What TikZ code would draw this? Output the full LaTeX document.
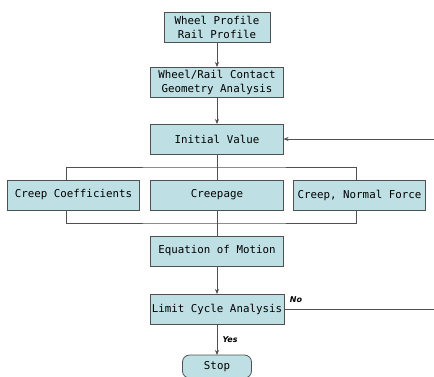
\documentclass[tikz,border=0pt]{standalone}
\usepackage{fontspec}
\setmonofont{DejaVu Sans Mono}
\setsansfont{DejaVu Sans}
\definecolor{boxcyan}{RGB}{190, 223, 227}
\definecolor{boxline}{RGB}{80, 80, 80}
\usetikzlibrary{arrows.meta, positioning, calc}

\begin{document}
\begin{tikzpicture}[x=1pt, y=-1pt,
    flowbox/.style={draw=boxline, fill=boxcyan, line width=0.8pt, outer sep=0pt, minimum width=133pt, minimum height=30pt, inner sep=2pt, align=center, font=\ttfamily\fontsize{10.8}{14}\selectfont},
    link/.style={draw=boxline, line width=0.7pt},
    flow/.style={link, -{Stealth[length=5pt, width=4pt]}},
    answer/.style={font=\sffamily\bfseries\itshape\fontsize{8}{9}\selectfont}]
  \useasboundingbox (0,0) rectangle (434,376);

  % main column
  \node[flowbox, minimum width=106pt] (profile) at (217,27) {Wheel Profile\\Rail Profile};
  \node[flowbox, below=25pt of profile] (contact) {Wheel/Rail Contact\\ Geometry Analysis};
  \node[flowbox, below=27pt of contact] (init) {Initial Value};
  \node[flowbox, below=26pt of init] (creepage) {Creepage};
  \node[flowbox, minimum width=132pt, left=11pt of creepage] (coeff) {Creep Coefficients};
  \node[flowbox, minimum width=132pt, right=10pt of creepage] (normal) {Creep, Normal Force};
  \node[flowbox, below=26pt of creepage] (motion) {Equation of Motion};
  \node[flowbox, below=28pt of motion] (limit) {Limit Cycle Analysis};
  \node[flowbox, minimum width=69pt, minimum height=23pt, rounded corners=7pt, below=31pt of limit] (stop) {Stop};

  \draw[flow] (profile) -- (contact);
  \draw[flow] (contact) -- (init);

  % split and merge around the creep boxes
  \draw[link] (init) -- (creepage);
  \draw[link] ([xshift=-7pt]coeff.north) |- ($(init.south)!0.5!(creepage.north)$) -| ([xshift=-3pt]normal.north);
  \draw[link] (creepage) -- (motion);
  \draw[link] ([xshift=-7pt]coeff.south) |- ($(creepage.south)!0.5!(motion.north)$) -| ([xshift=-3pt]normal.south);

  \draw[flow] (motion) -- (limit);
  \draw[flow] (limit) -- node[answer, right=2pt] {Yes} (stop);

  % loop back (cut at the right edge)
  \coordinate (noend) at (434,309);
  \coordinate (backin) at (434,140);
  \draw[link] (limit.east) -- node[answer, pos=0.08, above=3pt] {No} (limit.east -| noend);
  \draw[flow] (init.east -| backin) -- (init.east);
\end{tikzpicture}
\end{document}
